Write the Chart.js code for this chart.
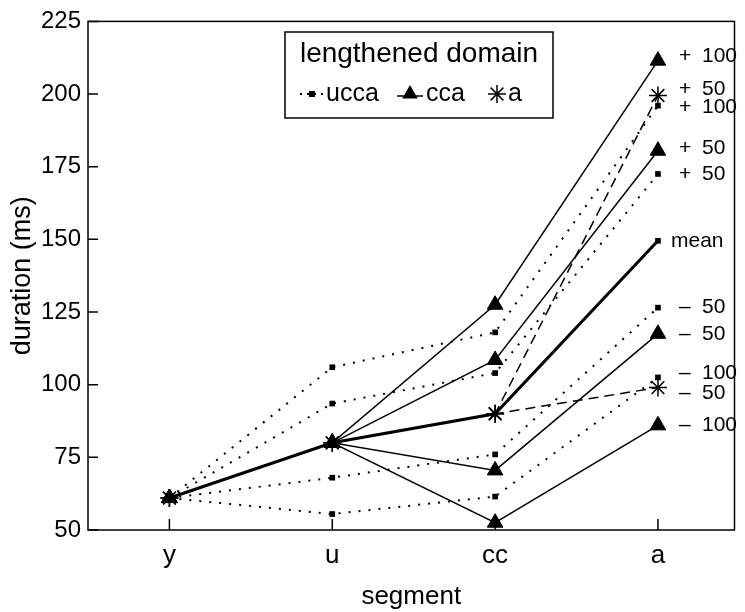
<!DOCTYPE html>
<html>
<head>
<meta charset="utf-8">
<script src="https://cdn.jsdelivr.net/npm/chart.js@4.4.1/dist/chart.umd.min.js"></script>
<style>
    html, body { margin: 0; padding: 0; background: #fff; }
    #wrap { width: 745px; height: 612px; position: relative; }
</style>
</head>
<body>
<div id="wrap"><canvas id="graficoDuracion"></canvas></div>
<script>
const segments = ['y', 'u', 'cc', 'a'];
const durationTicks = [50, 75, 100, 125, 150, 175, 200, 225];

// ucca (dotted, small squares)
const uccaPlus100 = [61, 106, 118, 196];
const uccaPlus50 = [61, 93.5, 104, 172.5];
const uccaMinus50 = [61, 68, 76, 126.5];
const uccaMinus100 = [61, 55.5, 61.5, 102.5];

// cca (solid, triangles)
const ccaPlus100 = [61, 80, 127.5, 211.5];
const ccaPlus50 = [61, 80, 108.5, 180.5];
const ccaMinus50 = [61, 80, 70.5, 117.5];
const ccaMinus100 = [61, 80, 52.5, 86];

// a (dashed, stars)
const aPlus50 = [61, 80, 90, 199.5];
const aMinus50 = [61, 80, 90, 99];

const meanValues = [61, 80, 90, 149.5];

const FONT = '"Liberation Sans", Arial, sans-serif';

const uccaStyle = {borderWidth: 2, borderDash: [2, 8], pointStyle: 'rect', pointRadius: 4, pointBorderWidth: 0};
const ccaStyle = {borderWidth: 1.5, pointStyle: 'triangle', pointRadius: 9, pointBorderWidth: 1};
const aStyle = {borderWidth: 1.5, borderDash: [10, 6], pointStyle: 'star', pointRadius: 9, pointBorderWidth: 1.5};
const meanStyle = {borderWidth: 3, pointStyle: 'rect', pointRadius: 4, pointBorderWidth: 0};

// label at the right end of each line (text, small vertical nudge in px)
const series = [
    {values: meanValues, style: meanStyle, end: ['', 'mean'], nudge: 0},
    {values: ccaPlus100, style: ccaStyle, end: ['+', '100'], nudge: -4},
    {values: ccaPlus50, style: ccaStyle, end: ['+', '50'], nudge: -3},
    {values: ccaMinus50, style: ccaStyle, end: ['–', '50'], nudge: 0},
    {values: ccaMinus100, style: ccaStyle, end: ['–', '100'], nudge: 0},
    {values: aPlus50, style: aStyle, end: ['+', '50'], nudge: -6},
    {values: aMinus50, style: aStyle, end: ['–', '50'], nudge: 6},
    {values: uccaPlus100, style: uccaStyle, end: ['+', '100'], nudge: 2},
    {values: uccaPlus50, style: uccaStyle, end: ['+', '50'], nudge: 0},
    {values: uccaMinus50, style: uccaStyle, end: ['–', '50'], nudge: 0},
    {values: uccaMinus100, style: uccaStyle, end: ['–', '100'], nudge: -4}
];

function triangle(ctx, x, y, r) {
    ctx.beginPath();
    for (let k = 0; k < 3; k++) {
        const ang = k * 2 * Math.PI / 3;
        const px = x + Math.sin(ang) * r, py = y - Math.cos(ang) * r;
        k === 0 ? ctx.moveTo(px, py) : ctx.lineTo(px, py);
    }
    ctx.closePath();
    ctx.fill();
}

function star(ctx, x, y, r) {
    ctx.beginPath();
    for (let k = 0; k < 4; k++) {
        const ang = k * Math.PI / 4;
        ctx.moveTo(x - Math.cos(ang) * r, y - Math.sin(ang) * r);
        ctx.lineTo(x + Math.cos(ang) * r, y + Math.sin(ang) * r);
    }
    ctx.stroke();
}

const extras = {
    id: 'extras',
    afterDatasetsDraw(chart) {
        const {ctx, chartArea: area, scales: {x, y}} = chart;
        ctx.save();
        ctx.strokeStyle = '#000';
        ctx.fillStyle = '#000';

        // frame
        ctx.lineWidth = 1.5;
        ctx.setLineDash([]);
        ctx.strokeRect(area.left, area.top, area.right - area.left, area.bottom - area.top);

        // inside ticks
        ctx.beginPath();
        durationTicks.forEach(v => {
            const py = y.getPixelForValue(v);
            ctx.moveTo(area.left, py);
            ctx.lineTo(area.left + 10, py);
        });
        segments.forEach((s, i) => {
            const px = x.getPixelForValue(i + 1);
            ctx.moveTo(px, area.bottom);
            ctx.lineTo(px, area.bottom - 11);
        });
        ctx.stroke();

        // end labels
        ctx.font = '21px ' + FONT;
        ctx.textBaseline = 'middle';
        ctx.textAlign = 'left';
        series.forEach(s => {
            const last = s.values.length;
            const px = x.getPixelForValue(last);
            const py = y.getPixelForValue(s.values[last - 1]) + s.nudge;
            if (s.end[0] === '') {
                ctx.fillText(s.end[1], px + 13, py);
            } else {
                ctx.fillText(s.end[0], px + 21, py);
                ctx.fillText(s.end[1], px + 44, py);
            }
        });

        // legend box
        ctx.fillStyle = '#fff';
        ctx.fillRect(285, 32, 268, 86);
        ctx.strokeRect(285, 32, 268, 86);
        ctx.fillStyle = '#000';
        ctx.textAlign = 'center';
        ctx.font = '28px ' + FONT;
        ctx.fillText('lengthened domain', 419, 54);

        const rowY = 94;
        ctx.font = '25px ' + FONT;
        ctx.textAlign = 'left';
        ctx.lineWidth = 2;
        ctx.setLineDash([2, 5]);
        ctx.beginPath();
        ctx.moveTo(300, rowY);
        ctx.lineTo(324, rowY);
        ctx.stroke();
        ctx.setLineDash([]);
        ctx.fillRect(309, rowY - 3, 6, 6);
        ctx.fillText('ucca', 326, rowY);

        ctx.lineWidth = 1.5;
        ctx.beginPath();
        ctx.moveTo(397, rowY + 2);
        ctx.lineTo(423, rowY + 2);
        ctx.stroke();
        triangle(ctx, 410, rowY, 9);
        ctx.fillText('cca', 426, rowY);

        star(ctx, 497, rowY, 9);
        ctx.fillText('a', 508, rowY);

        ctx.restore();
    }
};

const ctx = document.getElementById('graficoDuracion').getContext('2d');

const grafico = new Chart(ctx, {
    type: 'line',
    data: {
        datasets: series.map(s => Object.assign({
            data: s.values.map((v, i) => ({x: i + 1, y: v})),
            borderColor: '#000',
            pointBackgroundColor: '#000',
            pointBorderColor: '#000',
            fill: false,
            tension: 0,
            clip: false
        }, s.style))
    },
    options: {
        responsive: true,
        maintainAspectRatio: false,
        animation: false,
        layout: {padding: {top: 18, right: 4, left: 0, bottom: 0}},
        plugins: {legend: {display: false}, tooltip: {enabled: false}},
        scales: {
            x: {
                type: 'linear',
                min: 0.5,
                max: 4.47,
                afterBuildTicks: s => { s.ticks = segments.map((c, i) => ({value: i + 1})); },
                afterFit: s => { s.height = 82; },
                grid: {display: false, drawTicks: false},
                border: {display: false},
                ticks: {
                    autoSkip: false, maxRotation: 0, padding: 10, color: '#000',
                    font: {family: FONT, size: 26},
                    callback: v => segments[v - 1] || ''
                },
                title: {display: true, text: 'segment', color: '#000', font: {family: FONT, size: 26}, padding: {top: 0, bottom: 0}}
            },
            y: {
                min: 50,
                max: 225,
                afterBuildTicks: s => { s.ticks = durationTicks.map(v => ({value: v})); },
                afterFit: s => { s.width = 88; },
                grid: {display: false, drawTicks: false},
                border: {display: false},
                ticks: {autoSkip: false, padding: 7, color: '#000', font: {family: FONT, size: 24}},
                title: {display: true, text: 'duration (ms)', color: '#000', font: {family: FONT, size: 27}, padding: {top: 6, bottom: 0}}
            }
        }
    },
    plugins: [extras]
});
</script>
</body>
</html>
